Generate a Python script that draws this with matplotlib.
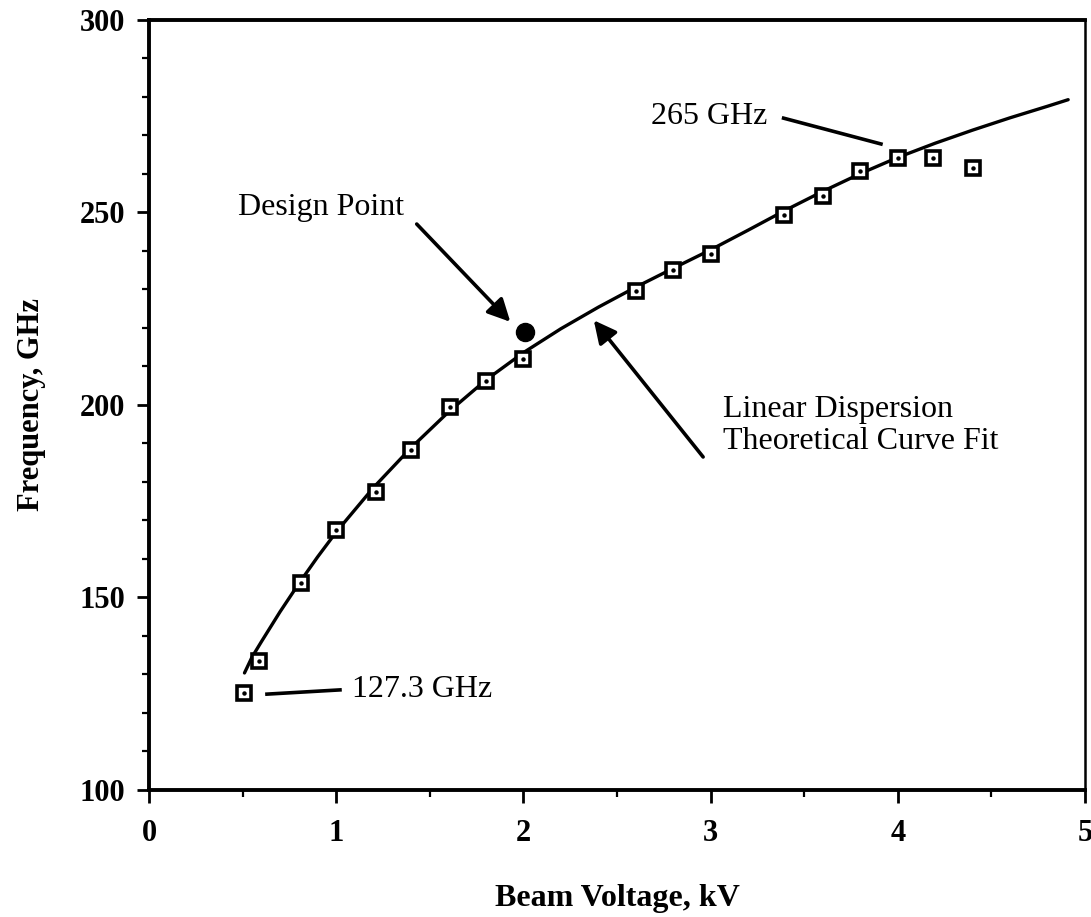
import matplotlib
matplotlib.use("Agg")
import matplotlib.pyplot as plt
from matplotlib.ticker import MultipleLocator

# Measured data points (squares)
voltage_kv = [0.51, 0.59, 0.81, 1.00, 1.21, 1.40, 1.61, 1.80, 2.00,
              2.60, 2.80, 3.00, 3.39, 3.60, 3.80, 4.00, 4.19, 4.40]
frequency_ghz = [125.3, 133.5, 153.7, 167.5, 177.5, 188.3, 199.6, 206.3, 212.0,
                 229.6, 235.1, 239.2, 249.4, 254.3, 260.8, 264.2, 264.2, 261.5]

# Theoretical curve fit
curve_v = [0.51, 0.55, 0.60, 0.70, 0.80, 0.90, 1.00, 1.20, 1.40, 1.60, 1.80,
           2.00, 2.20, 2.40, 2.60, 2.80, 3.00, 3.20, 3.40, 3.60, 3.80, 4.00,
           4.20, 4.40, 4.60, 4.80, 4.91]
curve_f = [130.4, 134.5, 138.5, 146.3, 153.6, 160.5, 167.0, 178.6, 188.9,
           198.2, 206.5, 213.6, 219.8, 225.4, 230.6, 235.5, 240.3, 245.4,
           250.6, 255.5, 260.1, 264.3, 268.0, 271.4, 274.6, 277.6, 279.3]

design_v = [2.007]
design_f = [219.0]

x_ticks = [0, 1, 2, 3, 4, 5]
y_ticks = [100, 150, 200, 250, 300]

serif = ["Liberation Serif", "DejaVu Serif"]

fig = plt.figure(figsize=(10.91, 9.17), dpi=100)
ax = fig.add_axes([0.1366, 0.1385, 0.8579, 0.8397])

ax.plot(curve_v, curve_f, color="black", lw=2.4, solid_capstyle="round",
        solid_joinstyle="round")
ax.plot(voltage_kv, frequency_ghz, linestyle="none", marker="s", ms=9.5,
        mfc="white", mec="black", mew=2.6)
ax.plot(voltage_kv, frequency_ghz, linestyle="none", marker="o", ms=2.2,
        mfc="black", mec="black")
ax.plot(design_v, design_f, linestyle="none", marker="o", ms=13,
        color="black")

ax.set_xlim(0, 5)
ax.set_ylim(100, 300)
ax.set_xticks(x_ticks)
ax.set_yticks(y_ticks)
ax.xaxis.set_minor_locator(MultipleLocator(0.5))
ax.yaxis.set_minor_locator(MultipleLocator(10))
ax.tick_params(axis="both", which="major", direction="out", length=9, width=2)
ax.tick_params(axis="both", which="minor", direction="out", length=5, width=1.6)
ax.tick_params(axis="y", labelsize=22, pad=8)
ax.tick_params(axis="x", labelsize=22, pad=12)
for lab in ax.get_xticklabels() + ax.get_yticklabels():
    lab.set_family(serif)
    lab.set_fontweight("bold")

for side in ["left", "bottom", "top"]:
    ax.spines[side].set_linewidth(2.8)
ax.spines["right"].set_linewidth(1.8)

ax.set_xlabel("Beam Voltage, kV", family=serif, fontweight="bold",
              fontsize=23, labelpad=26)
ax.set_ylabel("Frequency, GHz", family=serif, fontweight="bold",
              fontsize=22, labelpad=24)

arrow = dict(arrowstyle="-|>", color="black", lw=2.6, mutation_scale=34,
             shrinkA=0, shrinkB=0)

ax.text(0.476, 251.4, "Design Point", family=serif, fontsize=23,
        ha="left", va="center")
ax.annotate("", xy=(1.93, 221.6), xytext=(1.43, 247.0), arrowprops=arrow)

ax.text(3.064, 202.5, "Linear Dispersion\nTheoretical Curve Fit", family=serif,
        fontsize=23, ha="left", va="top", linespacing=1.1)
ax.annotate("", xy=(2.376, 222.0), xytext=(2.96, 186.5), arrowprops=arrow)

ax.text(2.684, 274.9, "265 GHz", family=serif, fontsize=23,
        ha="left", va="center")
ax.plot([3.39, 3.91], [274.5, 267.8], color="black", lw=2.6)

ax.text(1.084, 126.0, "127.3 GHz", family=serif, fontsize=23,
        ha="left", va="center")
ax.plot([0.63, 1.02], [124.9, 126.0], color="black", lw=2.6)

fig.savefig("out.png", dpi=100)
